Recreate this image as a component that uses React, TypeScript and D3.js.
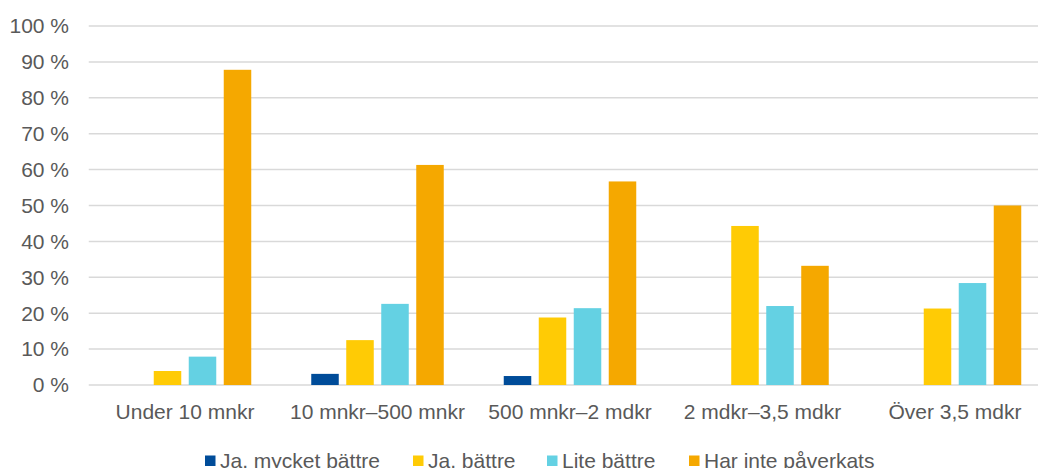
import React from "react";
import * as d3 from "d3";

// Omsättningsklasser (kategorier på x-axeln)
const categories = [
  "Under 10 mnkr",
  "10 mnkr–500 mnkr",
  "500 mnkr–2 mdkr",
  "2 mdkr–3,5 mdkr",
  "Över 3,5 mdkr",
];

// Serier
const seriesNames = ["Ja, mycket bättre", "Ja, bättre", "Lite bättre", "Har inte påverkats"];
const seriesColors = ["#004C99", "#FFCB05", "#64D1E3", "#F5A800"];

// Andel i procent per serie och kategori
const jaMycketBattre = [0, 3.1, 2.5, 0, 0];
const jaBattre = [3.9, 12.5, 18.8, 44.3, 21.3];
const liteBattre = [7.9, 22.6, 21.4, 22.0, 28.4];
const harIntePaverkats = [87.8, 61.3, 56.7, 33.2, 50.0];

const seriesValues = [jaMycketBattre, jaBattre, liteBattre, harIntePaverkats];

const yTicks = [0, 10, 20, 30, 40, 50, 60, 70, 80, 90, 100];

const W = 1038;
const H = 468;
const plotLeft = 88.75;
const plotRight = 1051.25;
const plotTop = 26;
const plotBottom = 385;

const FONT = "'Liberation Sans', Arial, sans-serif";
const TEXT = "#595959";

export default function App() {
  const x0 = d3.scaleBand<string>().domain(categories).range([plotLeft, plotRight]).padding(0);
  const groupW = x0.bandwidth();
  const clusterW = 132.5;
  const x1 = d3
    .scaleBand<number>()
    .domain(d3.range(seriesNames.length))
    .range([(groupW - clusterW) / 2, (groupW + clusterW) / 2])
    .paddingInner(0.214)
    .paddingOuter(0);
  const y = d3.scaleLinear().domain([0, 100]).range([plotBottom, plotTop]);

  const legendItems = [
    { sx: 205, tx: 220 },
    { sx: 413, tx: 428 },
    { sx: 547, tx: 562 },
    { sx: 689, tx: 704 },
  ];

  return (
    <svg
      width={W}
      height={H}
      style={{ position: "absolute", left: 0, top: 0, background: "#fff" }}
      fontFamily={FONT}
    >
      <rect x={0} y={0} width={W} height={H} fill="#fff" />
      {/* Stödlinjer och y-axelns etiketter */}
      {yTicks.map((t) => (
        <g key={t}>
          <line
            x1={plotLeft}
            x2={plotRight}
            y1={y(t)}
            y2={y(t)}
            stroke="#D9D9D9"
            strokeWidth={1.5}
          />
          <text
            x={69}
            y={y(t)}
            dy="0.35em"
            textAnchor="end"
            fontSize={21}
            fill={TEXT}
          >
            {`${t} %`}
          </text>
        </g>
      ))}
      {/* Staplar */}
      {categories.map((c, ci) => (
        <g key={c} transform={`translate(${x0(c)},0)`}>
          {seriesValues.map((vals, si) =>
            vals[ci] > 0 ? (
              <rect
                key={si}
                x={x1(si)}
                y={y(vals[ci])}
                width={x1.bandwidth()}
                height={plotBottom - y(vals[ci])}
                fill={seriesColors[si]}
              />
            ) : null
          )}
          <text
            x={groupW / 2}
            y={418.5}
            textAnchor="middle"
            fontSize={21}
            fill={TEXT}
          >
            {c}
          </text>
        </g>
      ))}
      {/* Förklaring */}
      {seriesNames.map((s, i) => (
        <g key={s}>
          <rect x={legendItems[i].sx} y={455.5} width={10.5} height={10.5} fill={seriesColors[i]} />
          <text x={legendItems[i].tx} y={468} fontSize={21} fill={TEXT}>
            {s}
          </text>
        </g>
      ))}
    </svg>
  );
}
